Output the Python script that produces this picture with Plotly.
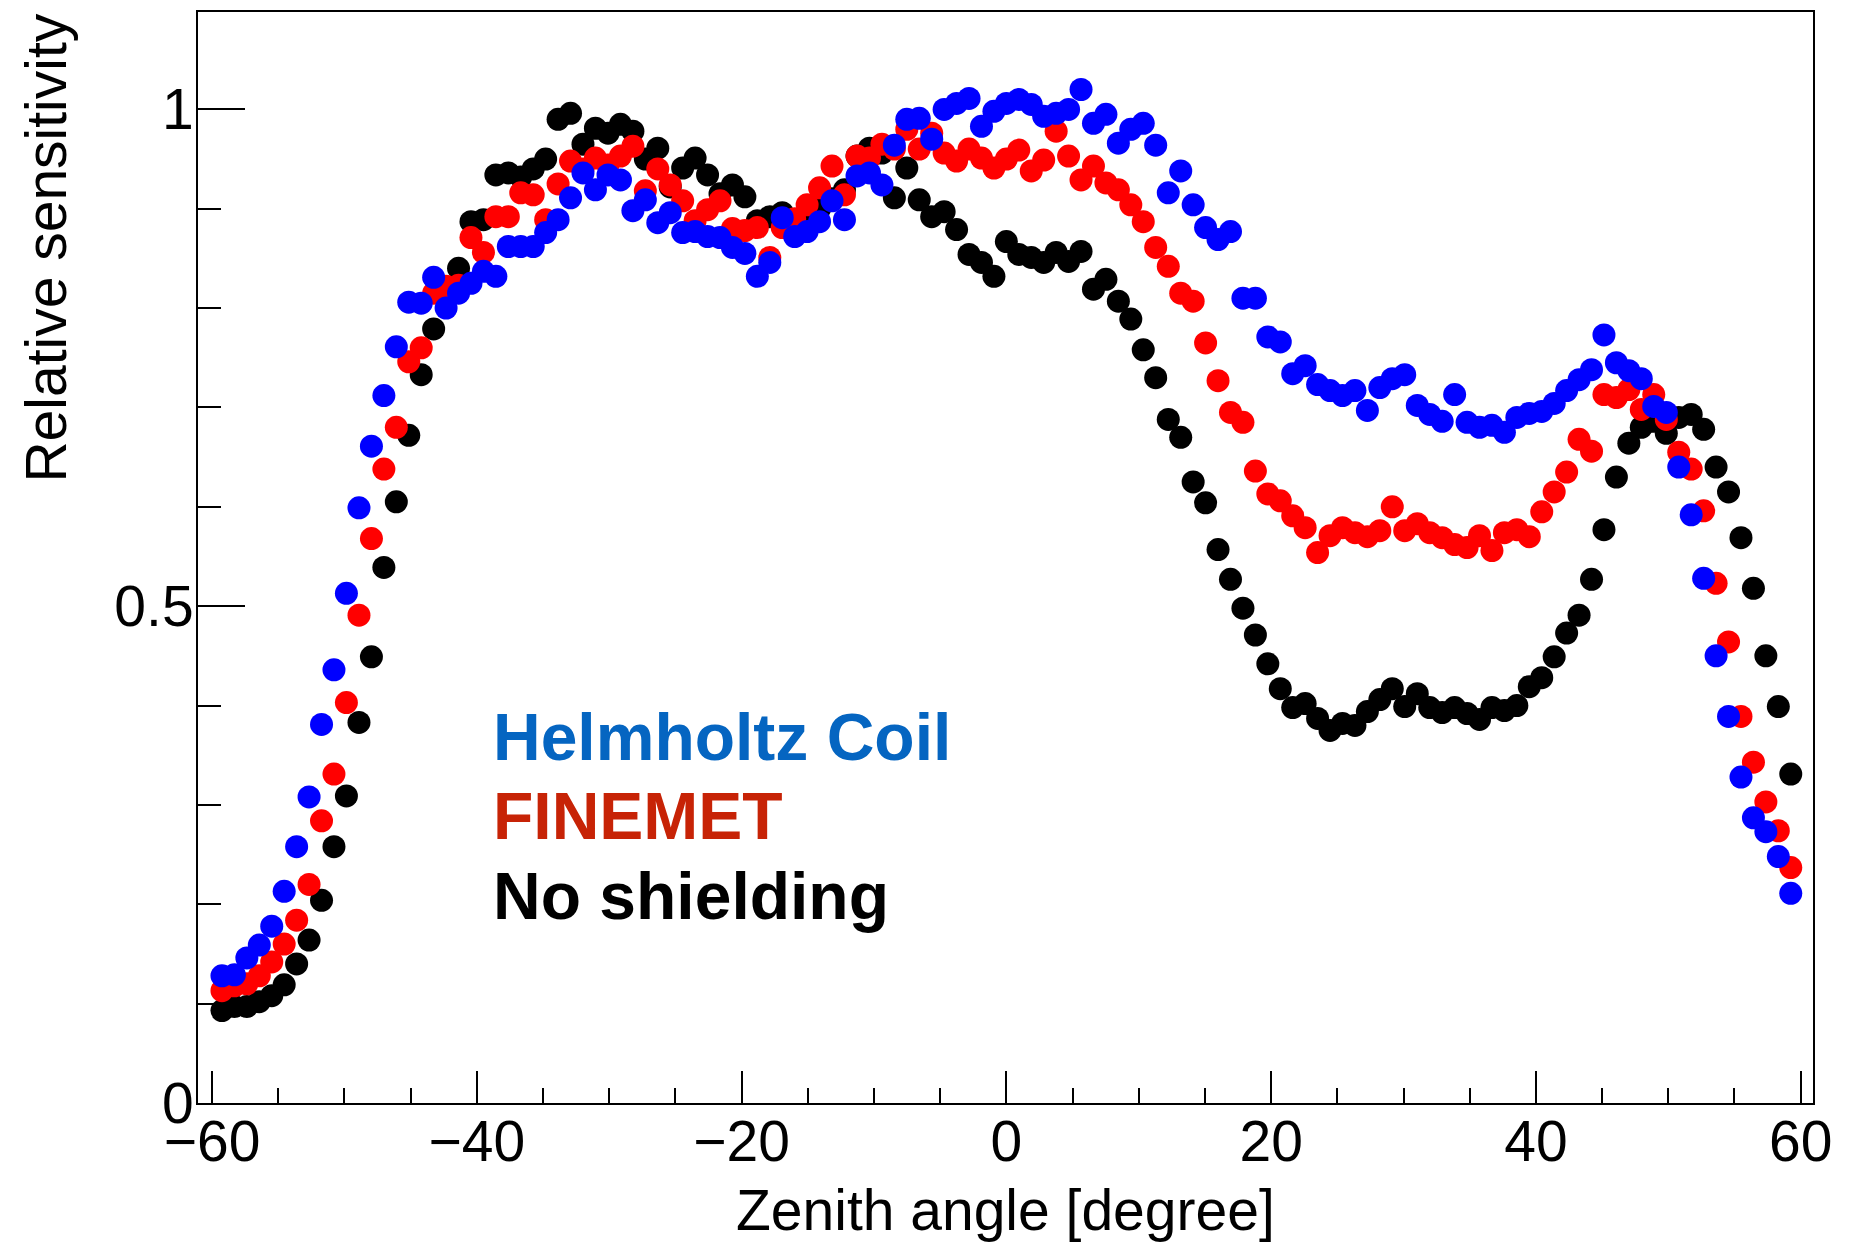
import plotly.graph_objects as go

# Zenith angle bin centres [degree]
zenith = [-59.25, -58.31, -57.37, -56.43, -55.49, -54.55, -53.61, -52.67, -51.73, -50.79,
          -49.85, -48.90, -47.96, -47.02, -46.08, -45.14, -44.20, -43.26, -42.32, -41.38,
          -40.44, -39.50, -38.56, -37.62, -36.68, -35.74, -34.80, -33.86, -32.92, -31.98,
          -31.04, -30.09, -29.15, -28.21, -27.27, -26.33, -25.39, -24.45, -23.51, -22.57,
          -21.63, -20.69, -19.75, -18.81, -17.87, -16.93, -15.99, -15.05, -14.11, -13.17,
          -12.23, -11.28, -10.34, -9.40, -8.46, -7.52, -6.58, -5.64, -4.70, -3.76,
          -2.82, -1.88, -0.94, 0.00, 0.94, 1.88, 2.82, 3.76, 4.70, 5.64,
          6.58, 7.52, 8.46, 9.40, 10.34, 11.28, 12.23, 13.17, 14.11, 15.05,
          15.99, 16.93, 17.87, 18.81, 19.75, 20.69, 21.63, 22.57, 23.51, 24.45,
          25.39, 26.33, 27.27, 28.21, 29.15, 30.09, 31.04, 31.98, 32.92, 33.86,
          34.80, 35.74, 36.68, 37.62, 38.56, 39.50, 40.44, 41.38, 42.32, 43.26,
          44.20, 45.14, 46.08, 47.02, 47.96, 48.90, 49.85, 50.79, 51.73, 52.67,
          53.61, 54.55, 55.49, 56.43, 57.37, 58.31, 59.25]

no_shielding = [0.093, 0.097, 0.097, 0.102, 0.108, 0.119, 0.140, 0.164, 0.204, 0.258,
                0.309, 0.383, 0.449, 0.539, 0.605, 0.672, 0.733, 0.779, 0.812, 0.840,
                0.887, 0.889, 0.934, 0.936, 0.932, 0.940, 0.950, 0.990, 0.996, 0.965,
                0.981, 0.976, 0.985, 0.978, 0.950, 0.961, 0.922, 0.941, 0.951, 0.934,
                0.915, 0.924, 0.912, 0.888, 0.892, 0.896, 0.887, 0.890, 0.900, 0.910,
                0.919, 0.953, 0.961, 0.956, 0.911, 0.941, 0.909, 0.892, 0.897, 0.879,
                0.854, 0.846, 0.832, 0.867, 0.854, 0.851, 0.846, 0.856, 0.847, 0.857,
                0.819, 0.829, 0.807, 0.789, 0.758, 0.730, 0.688, 0.670, 0.625, 0.604,
                0.557, 0.527, 0.498, 0.471, 0.442, 0.417, 0.398, 0.402, 0.387, 0.375,
                0.382, 0.380, 0.394, 0.406, 0.417, 0.399, 0.412, 0.398, 0.393, 0.398,
                0.392, 0.386, 0.398, 0.395, 0.400, 0.419, 0.428, 0.449, 0.473, 0.491,
                0.527, 0.577, 0.630, 0.664, 0.680, 0.686, 0.674, 0.690, 0.693, 0.678,
                0.640, 0.615, 0.569, 0.518, 0.450, 0.399, 0.331]

finemet = [0.113, 0.118, 0.120, 0.128, 0.142, 0.160, 0.184, 0.220, 0.284, 0.331,
           0.403, 0.491, 0.568, 0.638, 0.680, 0.746, 0.760, 0.815, 0.822, 0.823,
           0.871, 0.856, 0.892, 0.892, 0.916, 0.914, 0.889, 0.925, 0.948, 0.940,
           0.951, 0.944, 0.953, 0.963, 0.918, 0.940, 0.924, 0.908, 0.888, 0.899,
           0.908, 0.880, 0.878, 0.881, 0.851, 0.881, 0.890, 0.904, 0.921, 0.943,
           0.914, 0.953, 0.951, 0.965, 0.960, 0.980, 0.960, 0.976, 0.956, 0.948,
           0.960, 0.951, 0.941, 0.950, 0.959, 0.938, 0.949, 0.978, 0.953, 0.929,
           0.943, 0.926, 0.919, 0.904, 0.887, 0.861, 0.842, 0.815, 0.807, 0.765,
           0.727, 0.695, 0.685, 0.636, 0.613, 0.606, 0.591, 0.579, 0.554, 0.571,
           0.579, 0.574, 0.570, 0.576, 0.600, 0.576, 0.583, 0.574, 0.569, 0.562,
           0.559, 0.571, 0.556, 0.574, 0.577, 0.570, 0.595, 0.615, 0.635, 0.668,
           0.656, 0.713, 0.710, 0.718, 0.698, 0.713, 0.688, 0.655, 0.638, 0.596,
           0.523, 0.464, 0.389, 0.343, 0.303, 0.274, 0.237]

helmholtz = [0.128, 0.129, 0.146, 0.159, 0.178, 0.213, 0.258, 0.308, 0.381, 0.436,
             0.513, 0.599, 0.661, 0.712, 0.761, 0.806, 0.805, 0.831, 0.800, 0.815,
             0.825, 0.837, 0.832, 0.862, 0.862, 0.862, 0.876, 0.889, 0.911, 0.936,
             0.919, 0.934, 0.929, 0.898, 0.909, 0.886, 0.896, 0.876, 0.877, 0.872,
             0.871, 0.861, 0.855, 0.832, 0.846, 0.891, 0.872, 0.877, 0.887, 0.908,
             0.889, 0.933, 0.936, 0.924, 0.964, 0.990, 0.991, 0.970, 1.000, 1.006,
             1.011, 0.983, 0.998, 1.006, 1.010, 1.005, 0.993, 0.996, 1.000, 1.020,
             0.986, 0.995, 0.966, 0.980, 0.986, 0.964, 0.916, 0.938, 0.904, 0.881,
             0.869, 0.877, 0.810, 0.810, 0.771, 0.766, 0.734, 0.742, 0.723, 0.717,
             0.712, 0.717, 0.697, 0.720, 0.729, 0.733, 0.702, 0.693, 0.686, 0.713,
             0.685, 0.680, 0.682, 0.675, 0.690, 0.694, 0.696, 0.704, 0.717, 0.728,
             0.738, 0.773, 0.745, 0.737, 0.729, 0.701, 0.695, 0.640, 0.592, 0.528,
             0.450, 0.389, 0.328, 0.287, 0.273, 0.248, 0.211]

series = [
    ("No shielding", no_shielding, "#000000", "#000000"),
    ("FINEMET", finemet, "#ff0000", "#c72306"),
    ("Helmholtz Coil", helmholtz, "#0000ff", "#0565c1"),
]

FONT = "Liberation Sans, Arial, Helvetica, sans-serif"

fig = go.Figure()
for name, vals, mcol, _ in series:
    fig.add_trace(go.Scatter(
        x=zenith, y=vals, mode="markers", name=name,
        marker=dict(size=23, color=mcol, line=dict(width=0)),
        showlegend=False,
    ))

# legend-like labels (text only)
label_y = {"Helmholtz Coil": 0.3359, "FINEMET": 0.2627, "No shielding": 0.1895}
for name, _, _, tcol in series:
    fig.add_annotation(
        text="<b>" + name + "</b>", xref="paper", yref="paper",
        x=0.1815, y=label_y[name], xanchor="left", yanchor="middle",
        showarrow=False, font=dict(family=FONT, size=66, color=tcol),
    )

# axis titles
fig.add_annotation(
    text="Relative sensitivity", xref="paper", yref="paper",
    x=-0.0947, y=1.0, xanchor="center", yanchor="top", textangle=-90,
    showarrow=False, font=dict(family=FONT, size=57, color="black"),
)
fig.add_annotation(
    text="Zenith angle [degree]", xref="paper", yref="paper",
    x=0.5, y=-0.0979, xanchor="center", yanchor="middle",
    showarrow=False, font=dict(family=FONT, size=57, color="black"),
)

fig.update_layout(
    width=1864, height=1242,
    margin=dict(l=198, r=51, t=10, b=139, pad=0),
    paper_bgcolor="white", plot_bgcolor="white",
    font=dict(family=FONT, size=57, color="black"),
    xaxis=dict(
        range=[-61.06, 60.93], tickmode="linear", tick0=0, dtick=20,
        ticks="inside", ticklen=32, tickwidth=2, tickcolor="black",
        ticklabelstandoff=-12,
        showline=True, linewidth=2, linecolor="black", mirror=True,
        showgrid=False, zeroline=False,
        tickfont=dict(family=FONT, size=57, color="black"),
        minor=dict(dtick=5, tick0=0, ticks="inside", ticklen=15,
                   tickwidth=2, tickcolor="black", showgrid=False),
    ),
    yaxis=dict(
        range=[0, 1.098], tickmode="linear", tick0=0, dtick=0.5,
        ticks="inside", ticklen=47, tickwidth=2, tickcolor="black",
        ticklabelstandoff=-9,
        showline=True, linewidth=2, linecolor="black", mirror=True,
        showgrid=False, zeroline=False,
        tickfont=dict(family=FONT, size=57, color="black"),
        minor=dict(dtick=0.1, tick0=0, ticks="inside", ticklen=23,
                   tickwidth=2, tickcolor="black", showgrid=False),
    ),
)

fig.write_html("out.html")
